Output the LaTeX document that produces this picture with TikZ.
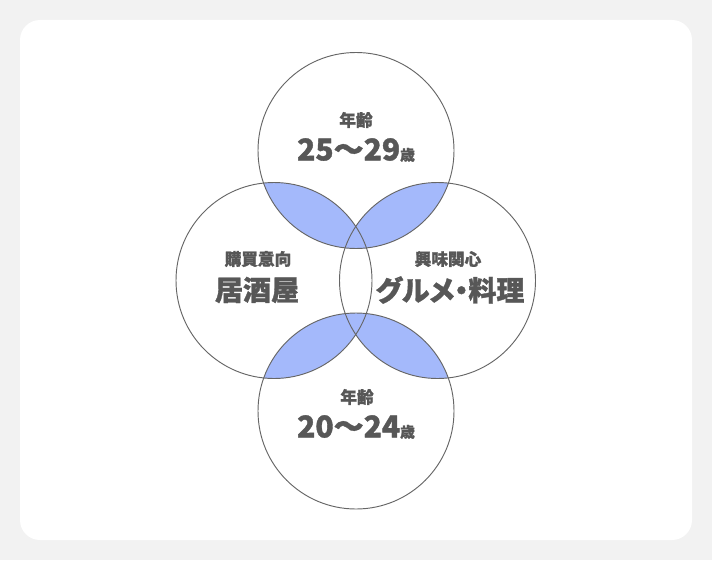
\documentclass[tikz,border=0pt]{standalone}
\usepackage{fontspec}
\setmainfont{Noto Sans CJK JP}[BoldFeatures={FakeBold=1.2}]
\newfontfamily\jpprop{Noto Sans CJK JP}[RawFeature=+palt, BoldFeatures={FakeBold=1.2}]
\usepackage{tikz}
\definecolor{page}{HTML}{F2F2F2}
\definecolor{ink}{HTML}{575757}
\definecolor{rim}{HTML}{666666}
\definecolor{lens}{HTML}{A4B9FB}
\tikzset{
  lab/.style={text=ink, font=\bfseries\fontsize{12.5}{14}\selectfont, inner sep=0pt},
  num/.style={text=ink, font=\bfseries\fontsize{22.5}{26}\selectfont, inner sep=0pt},
  word/.style={text=ink, font=\bfseries\fontsize{21}{24}\selectfont, inner sep=0pt},
  ring/.style={draw=rim, line width=0.7pt},
  lensFill/.style={fill=lens}
}
\newcommand{\sai}{{\fontsize{11}{12}\selectfont 歳}}

\begin{document}
\begin{tikzpicture}[x=0.75pt, y=-0.75pt]
    % Page and card
    \fill[page] (0,0) rectangle (712,560);
    \fill[white, rounded corners=15pt] (20,20) rectangle (692,540);

    % Centres
    \coordinate (cTop) at (356,150.5);
    \coordinate (cLeft) at (274,280.5);
    \coordinate (cRight) at (437.5,280.5);
    \coordinate (cBot) at (356,411);

    % Overlaps
    \begin{scope}
    \clip (cTop) circle[radius=98];
    \fill[lensFill] (cLeft) circle[radius=98];
    \fill[lensFill] (cRight) circle[radius=98];
    \end{scope}
    \begin{scope}
    \clip (cBot) circle[radius=98];
    \fill[lensFill] (cLeft) circle[radius=98];
    \fill[lensFill] (cRight) circle[radius=98];
    \end{scope}

    % Circles
    \draw[ring] (cTop) circle[radius=98];
    \draw[ring] (cLeft) circle[radius=98];
    \draw[ring] (cRight) circle[radius=98];
    \draw[ring] (cBot) circle[radius=98];

    % Top
    \node[lab] (topLab) at (356,120) {年齢};
    \node[num] (topNum) at (356,150) {25～29\sai};

    % Left
    \node[lab] (leftLab) at (258,259) {購買意向};
    \node[word] (leftWord) at (257,290) {居酒屋};

    % Right
    \node[lab] (rightLab) at (448,259) {興味関心};
    \node[word] (rightWord) at (450,290) {\jpprop グルメ・料理};

    % Bottom
    \node[lab] (botLab) at (357,397) {年齢};
    \node[num] (botNum) at (356,427) {20～24\sai};
\end{tikzpicture}
\end{document}
